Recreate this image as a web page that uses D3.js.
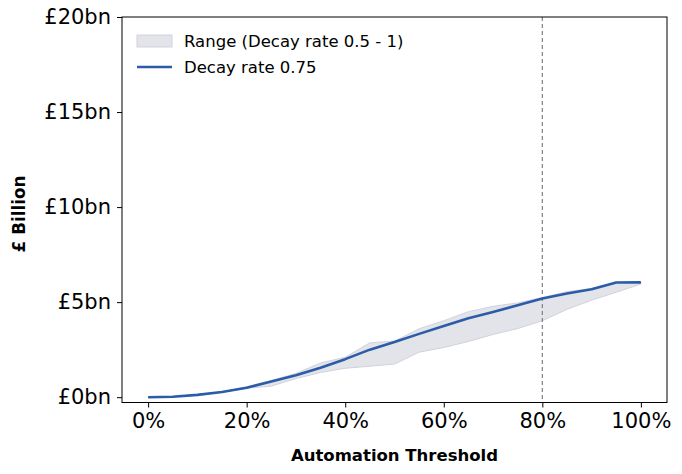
<!DOCTYPE html>
<html>
<head>
<meta charset="utf-8">
<script src="https://cdn.jsdelivr.net/npm/d3@7"></script>
<style>
  body { margin: 0; background: #fff; }
  text { font-family: "DejaVu Sans", sans-serif; }
</style>
</head>
<body>
<div id="chart"></div>
<script>
var thresholds = [0, 5, 10, 15, 20, 25, 30, 35, 40, 45, 50, 55, 60, 65, 70, 75, 80, 85, 90, 95, 100];
var decay075 = [0, 0.02, 0.12, 0.27, 0.5, 0.82, 1.15, 1.55, 2.0, 2.5, 2.9, 3.33, 3.75, 4.15, 4.48, 4.84, 5.19, 5.45, 5.68, 6.03, 6.04];
var rangeHigh = [0, 0.03, 0.13, 0.29, 0.55, 0.88, 1.25, 1.8, 2.1, 2.86, 2.95, 3.6, 4.02, 4.5, 4.78, 4.96, 5.24, 5.55, 5.72, 6.04, 6.05];
var rangeLow = [0, 0.02, 0.11, 0.26, 0.47, 0.58, 0.98, 1.3, 1.52, 1.63, 1.74, 2.37, 2.61, 2.93, 3.3, 3.61, 4.02, 4.62, 5.1, 5.52, 5.95];
var yTicks = [0, 5, 10, 15, 20];
var xTicks = [0, 20, 40, 60, 80, 100];
var markerAt = 80;

var W = 682, H = 474;
var m = {left: 122, right: 15, top: 17, bottom: 71.5};

var svg = d3.select("#chart").append("svg").attr("width", W).attr("height", H);

var x = d3.scaleLinear().domain([-5.3, 105.3]).range([m.left, W - m.right]);
var y = d3.scaleLinear().domain([-0.28, 20]).range([H - m.bottom, m.top]);

var rows = thresholds.map(function(t, i) {
  return {t: t, v: decay075[i], lo: rangeLow[i], hi: rangeHigh[i]};
});

var area = d3.area().x(function(d) { return x(d.t); }).y0(function(d) { return y(d.lo); }).y1(function(d) { return y(d.hi); });
var line = d3.line().x(function(d) { return x(d.t); }).y(function(d) { return y(d.v); });

svg.append("path").datum(rows).attr("d", area)
  .style("fill", "#e3e3ea").style("stroke", "#d2d2de").style("stroke-width", 1);

svg.append("line")
  .attr("x1", x(markerAt)).attr("x2", x(markerAt))
  .attr("y1", m.top).attr("y2", H - m.bottom)
  .style("stroke", "#808080").style("stroke-width", 1.2).style("stroke-dasharray", "4,3");

svg.append("path").datum(rows).attr("d", line)
  .style("fill", "none").style("stroke", "#2b5ca8").style("stroke-width", 2.6)
  .style("stroke-linejoin", "round");

// axes
var yAxis = d3.axisLeft(y).tickValues(yTicks).tickSize(5).tickPadding(6)
  .tickFormat(function(d) { return "£" + d + "bn"; });
var xAxis = d3.axisBottom(x).tickValues(xTicks).tickSize(5).tickPadding(6)
  .tickFormat(function(d) { return d + "%"; });

var gy = svg.append("g").attr("transform", "translate(" + m.left + ",0)").call(yAxis);
var gx = svg.append("g").attr("transform", "translate(0," + (H - m.bottom) + ")").call(xAxis);
[gx, gy].forEach(function(g) {
  g.select(".domain").remove();
  g.selectAll("line").style("stroke", "#000").style("stroke-width", 1);
  g.selectAll("text").style("font-size", "21px").style("fill", "#000").style("font-family", "DejaVu Sans");
});

svg.append("rect")
  .attr("x", m.left).attr("y", m.top)
  .attr("width", W - m.right - m.left).attr("height", H - m.bottom - m.top)
  .style("fill", "none").style("stroke", "#000").style("stroke-width", 1);

svg.append("text").attr("x", (m.left + W - m.right) / 2).attr("y", 461)
  .attr("text-anchor", "middle").style("font-size", "16.5px").style("font-weight", "bold")
  .text("Automation Threshold");
svg.append("text").attr("transform", "translate(25,214) rotate(-90)")
  .attr("text-anchor", "middle").style("font-size", "16.8px").style("font-weight", "bold")
  .text("£ Billion");

// legend
var leg = svg.append("g");
leg.append("rect").attr("x", 137).attr("y", 35).attr("width", 35).attr("height", 12)
  .style("fill", "#e3e3ea").style("stroke", "#d2d2de");
leg.append("line").attr("x1", 137).attr("x2", 172).attr("y1", 67).attr("y2", 67)
  .style("stroke", "#2b5ca8").style("stroke-width", 2.6);
leg.append("text").attr("x", 184).attr("y", 47).style("font-size", "16.5px").text("Range (Decay rate 0.5 - 1)");
leg.append("text").attr("x", 184).attr("y", 73).style("font-size", "16.5px").text("Decay rate 0.75");
</script>
</body>
</html>
